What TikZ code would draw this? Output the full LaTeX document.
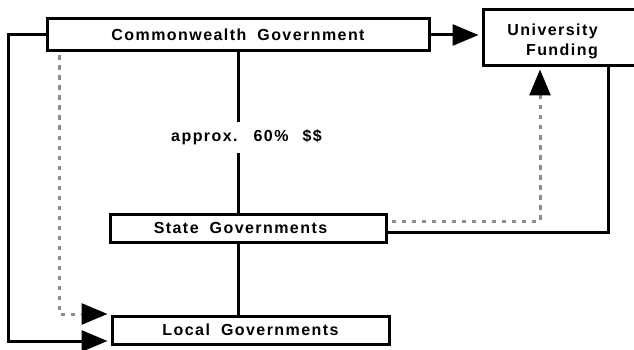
\documentclass[tikz,border=0pt]{standalone}
\usepackage{fontspec}
\setmainfont{Liberation Sans}[LetterSpace=9]
\usetikzlibrary{arrows.meta}
\definecolor{dashgrey}{RGB}{140,140,140}
\newcommand\wgap{\hspace{11pt}}
\begin{document}
\begin{tikzpicture}[x=1pt,y=-1pt,
  txt/.style={font=\fontsize{16}{20}\selectfont\bfseries},
  box/.style={txt, draw=black, line width=3pt, fill=white, inner sep=0pt},
  conn/.style={draw=black, line width=3pt},
  greyline/.style={draw=dashgrey, line width=3pt, dash pattern=on 4.5pt off 5.5pt},
  tip/.style={-{Triangle[length=26pt,width=21pt,color=black]}, shorten >=3pt},
  lbl/.style={txt, inner sep=0pt}]
\useasboundingbox (0,0) rectangle (634,350);
\clip (0,0) rectangle (634,350);

% boxes
\node[box, minimum width=382pt, minimum height=32pt] (cw) at (238,35)
  {Commonwealth\wgap Government};
\node[box, minimum width=152pt, minimum height=56pt] (uni) at (559,38) {};
\node[lbl, align=right, anchor=east] (unitext) at (598,41) {University\\Funding};
\node[box, minimum width=276pt, minimum height=28pt] (state) at (248,228)
  {State\wgap Governments\kern15pt};
\node[box, minimum width=277pt, minimum height=28pt] (local) at (250.5,330)
  {Local\wgap Governments};

% share label on the central spine
\node[lbl, font=\fontsize{16}{18}\selectfont\bfseries, minimum height=30pt] (share)
  at (246.5,137.5) {approx.\hspace{16pt}60\%\hspace{14pt}\$\$};

% routing points
\coordinate (spine) at (238,0);
\coordinate (lfoot) at (8,341);
\coordinate (dl) at (59,314);
\coordinate (dr) at (540,221);
\coordinate (rr) at (608,232);

% central spine
\draw[conn] (cw.south -| spine) -- (share.north -| spine);
\draw[conn] (share.south -| spine) -- (state.north -| spine);
\draw[conn] (state.south -| spine) -- (local.north -| spine);

% Commonwealth to University Funding
\draw[conn, tip] (cw.east) -- (uni.west |- cw.east);

% Commonwealth to Local (solid, round the left)
\draw[conn, tip] (cw.west) -| (lfoot) -- (local.west |- lfoot);

% Commonwealth to Local (dashed)
\draw[greyline, tip, shorten <=3pt] (cw.south -| dl) -- (dl) -- (local.west |- dl);

% State to University Funding (dashed)
\draw[greyline, tip, shorten <=4pt, shorten >=2pt] (state.east |- dr) -- (dr) -- (uni.south -| dr);

% University Funding to State (solid)
\draw[conn] (uni.south -| rr) -- (rr) -- (state.east |- rr);
\end{tikzpicture}
\end{document}
